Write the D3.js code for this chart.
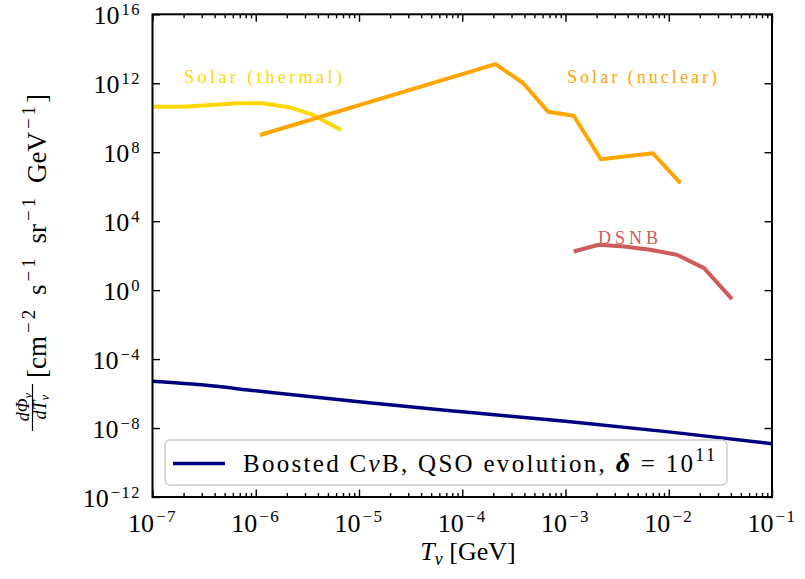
<!DOCTYPE html>
<html>
<head>
<meta charset="utf-8">
<script src="https://cdn.jsdelivr.net/npm/d3@7"></script>
<style>
body { margin: 0; background: #fff; }
</style>
</head>
<body>
<div id="canvas"></div>
<script>
var WIDTH = 805, HEIGHT = 579;
var LEFT = 152.5, RIGHT = 772, TOP = 14.3, BOTTOM = 497;
var FONT = '"Liberation Serif", "Times New Roman", "DejaVu Serif", serif';

// data (T in GeV, flux in cm^-2 s^-1 sr^-1 GeV^-1)
var solar_thermal_T = [1e-7, 2e-7, 6.6e-7, 1.15e-6, 2.1e-6, 3.6e-6, 6.7e-6];
var solar_thermal_flux = [4.4e10, 4.4e10, 6.9e10, 6.9e10, 4.1e10, 1.45e10, 1.95e9];

var solar_nuclear_T = [1.1e-6, 2.1e-4, 3.9e-4, 6.8e-4, 1.2e-3, 2.2e-3, 7.0e-3, 1.3e-2];
var solar_nuclear_flux = [1e9, 1.3e13, 1e12, 2.2e10, 1.3e10, 3.9e7, 8.7e7, 1.6e6];

var dsnb_T = [1.2e-3, 2.1e-3, 3.7e-3, 6.6e-3, 1.2e-2, 2.2e-2, 4.1e-2];
var dsnb_flux = [174, 427, 339, 219, 112, 19, 0.3];

var bcnb_T = [1e-7, 3e-7, 1e-6, 1e-5, 1e-4, 1e-3, 1e-2, 1e-1];
var bcnb_flux = [5.2e-6, 3.2e-6, 1.45e-6, 3.3e-7, 8.7e-8, 2.45e-8, 6.0e-9, 1.23e-9];

var x_ticks = [1e-7, 1e-6, 1e-5, 1e-4, 1e-3, 1e-2, 1e-1];
var x_tick_exps = ['\u22127', '\u22126', '\u22125', '\u22124', '\u22123', '\u22122', '\u22121'];
var y_ticks = [1e-12, 1e-8, 1e-4, 1e0, 1e4, 1e8, 1e12, 1e16];
var y_tick_exps = ['\u221212', '\u22128', '\u22124', '0', '4', '8', '12', '16'];

var svg = d3.select('#canvas').append('svg')
    .attr('width', WIDTH)
    .attr('height', HEIGHT)
    .style('font-family', FONT);

var x = d3.scaleLog().domain([1e-7, 1e-1]).range([LEFT, RIGHT]);
var y = d3.scaleLog().domain([1e-12, 1e16]).range([BOTTOM, TOP]);

var x_minor = [];
for (var k = -7; k < -1; ++k) {
    for (var m = 2; m < 10; ++m) {
        x_minor.push(m * Math.pow(10, k));
    }
}

function styleAxis(g) {
    g.select('.domain').remove();
    g.selectAll('line').attr('stroke', 'black').attr('stroke-width', 1.4);
}

// major/minor ticks, pointing inward, on all four sides
svg.append('g').attr('transform', 'translate(0,' + BOTTOM + ')')
    .call(d3.axisBottom(x).tickValues(x_ticks).tickSize(-7.5).tickFormat('')).call(styleAxis);
svg.append('g').attr('transform', 'translate(0,' + BOTTOM + ')')
    .call(d3.axisBottom(x).tickValues(x_minor).tickSize(-4).tickFormat('')).call(styleAxis);
svg.append('g').attr('transform', 'translate(0,' + TOP + ')')
    .call(d3.axisTop(x).tickValues(x_ticks).tickSize(-7.5).tickFormat('')).call(styleAxis);
svg.append('g').attr('transform', 'translate(0,' + TOP + ')')
    .call(d3.axisTop(x).tickValues(x_minor).tickSize(-4).tickFormat('')).call(styleAxis);
svg.append('g').attr('transform', 'translate(' + LEFT + ',0)')
    .call(d3.axisLeft(y).tickValues(y_ticks).tickSize(-7.5).tickFormat('')).call(styleAxis);
svg.append('g').attr('transform', 'translate(' + RIGHT + ',0)')
    .call(d3.axisRight(y).tickValues(y_ticks).tickSize(-7.5).tickFormat('')).call(styleAxis);

// tick labels as 10^n
x_ticks.forEach(function(v, i) {
    var t = svg.append('text')
        .attr('x', x(v))
        .attr('y', 532)
        .attr('text-anchor', 'middle')
        .style('font-size', '26px');
    t.append('tspan').text('10');
    t.append('tspan').attr('dx', 2).attr('dy', -10).style('font-size', '17px')
        .style('letter-spacing', '1.5px').text(x_tick_exps[i]);
});
y_ticks.forEach(function(v, i) {
    var t = svg.append('text')
        .attr('x', 141)
        .attr('y', y(v) + 9.5)
        .attr('text-anchor', 'end')
        .style('font-size', '26px');
    t.append('tspan').text('10');
    t.append('tspan').attr('dx', 2).attr('dy', -8.5).style('font-size', '16.5px')
        .style('letter-spacing', '1.5px').text(y_tick_exps[i]);
});

// curves
var line = d3.line()
    .x(function(d) { return x(d[0]); })
    .y(function(d) { return y(d[1]); });

function addCurve(ts, fs, color, width, curve) {
    svg.append('path')
        .datum(d3.zip(ts, fs))
        .attr('d', line.curve(curve || d3.curveLinear))
        .attr('fill', 'none')
        .attr('stroke', color)
        .attr('stroke-width', width)
        .attr('stroke-linejoin', 'round');
}
addCurve(bcnb_T, bcnb_flux, '#000080', 3.5, d3.curveMonotoneX);
addCurve(solar_thermal_T, solar_thermal_flux, '#FFD700', 4);
addCurve(solar_nuclear_T, solar_nuclear_flux, '#FFA500', 4);
addCurve(dsnb_T, dsnb_flux, '#CD5C5C', 4);

// curve labels
function addLabel(txt, lx, ly, len, color) {
    svg.append('text')
        .attr('x', lx)
        .attr('y', ly)
        .attr('textLength', len)
        .attr('lengthAdjust', 'spacing')
        .attr('fill', color)
        .style('font-size', '18px')
        .text(txt);
}
addLabel('Solar (thermal)', 184, 83, 158, '#FFD700');
addLabel('Solar (nuclear)', 567, 83, 150, '#FFA500');
addLabel('DSNB', 598, 244, 60, '#CD5C5C');

// frame
svg.append('rect')
    .attr('x', LEFT).attr('y', TOP)
    .attr('width', RIGHT - LEFT).attr('height', BOTTOM - TOP)
    .attr('fill', 'none')
    .attr('stroke', 'black')
    .attr('stroke-width', 2);

// legend
var lg = svg.append('g');
lg.append('rect')
    .attr('x', 165).attr('y', 440)
    .attr('width', 562).attr('height', 45)
    .attr('rx', 5)
    .attr('fill', 'white').attr('fill-opacity', 0.8)
    .attr('stroke', '#cccccc').attr('stroke-width', 1.5);
lg.append('line')
    .attr('x1', 173).attr('x2', 225)
    .attr('y1', 463.5).attr('y2', 463.5)
    .attr('stroke', '#000080').attr('stroke-width', 3.5);
var lt = lg.append('text')
    .attr('x', 243).attr('y', 472)
    .attr('textLength', 472)
    .attr('lengthAdjust', 'spacing')
    .style('font-size', '25px');
lt.append('tspan').text('Boosted C');
lt.append('tspan').style('font-style', 'italic').text('\u03bd');
lt.append('tspan').text('B, QSO evolution, ');
lt.append('tspan').style('font-style', 'italic').style('font-weight', 'bold').style('font-size', '28px').text('\u03b4');
lt.append('tspan').text(' = 10');
lt.append('tspan').attr('dy', -11).style('font-size', '18px').text('11');

// x label
var xl = svg.append('text')
    .attr('x', 468).attr('y', 560)
    .attr('text-anchor', 'middle')
    .style('font-size', '26px');
xl.append('tspan').style('font-style', 'italic').text('T');
xl.append('tspan').attr('dy', 5).style('font-style', 'italic').style('font-size', '18px').text('\u03bd');
xl.append('tspan').attr('dy', -5).text(' [GeV]');

// y label, rotated
var yl = svg.append('g').attr('transform', 'rotate(-90)');
var num = yl.append('text')
    .attr('x', -407).attr('y', 29)
    .attr('text-anchor', 'middle')
    .style('font-size', '18px').style('font-style', 'italic');
num.append('tspan').text('d\u03a6');
num.append('tspan').attr('dy', 3).style('font-size', '13px').text('\u03bd');
yl.append('line')
    .attr('x1', -431).attr('x2', -384)
    .attr('y1', 32.5).attr('y2', 32.5)
    .attr('stroke', 'black').attr('stroke-width', 1.2);
var den = yl.append('text')
    .attr('x', -407).attr('y', 46)
    .attr('text-anchor', 'middle')
    .style('font-size', '18px').style('font-style', 'italic');
den.append('tspan').text('dT');
den.append('tspan').attr('dy', 3).style('font-size', '13px').text('\u03bd');

var br = yl.append('text')
    .attr('x', -378).attr('y', 46)
    .style('font-size', '27px');
br.append('tspan').text('[cm');
br.append('tspan').attr('dx', 3).attr('dy', -11).style('font-size', '19px').style('letter-spacing', '3px').text('\u22122');
br.append('tspan').attr('dx', 5).attr('dy', 11).text(' s');
br.append('tspan').attr('dx', 3).attr('dy', -11).style('font-size', '19px').style('letter-spacing', '3px').text('\u22121');
br.append('tspan').attr('dx', 5).attr('dy', 11).text(' sr');
br.append('tspan').attr('dx', 3).attr('dy', -11).style('font-size', '19px').style('letter-spacing', '3px').text('\u22121');
br.append('tspan').attr('dx', 5).attr('dy', 11).text(' GeV');
br.append('tspan').attr('dx', 3).attr('dy', -11).style('font-size', '19px').style('letter-spacing', '3px').text('\u22121');
br.append('tspan').attr('dy', 11).text(']');
</script>
</body>
</html>
